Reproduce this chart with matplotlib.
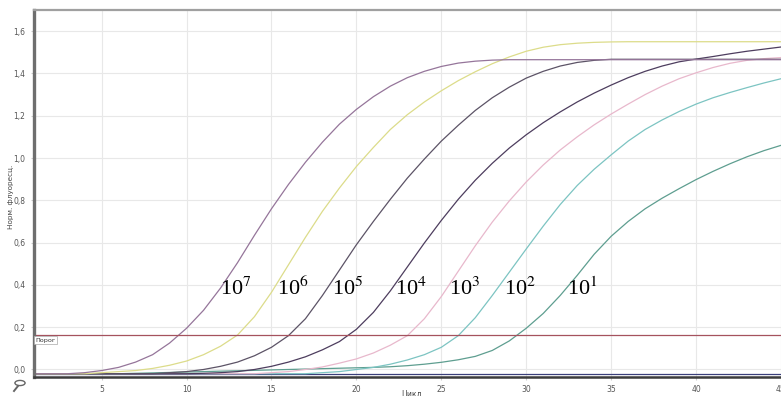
import matplotlib
matplotlib.use("Agg")
import matplotlib.pyplot as plt
from matplotlib.patches import Circle
from matplotlib.lines import Line2D

plt.rcParams["mathtext.fontset"] = "stix"

# normalised fluorescence per cycle for the 10-fold dilution series
cycles = list(range(1, 46))

fl_1e7 = [-0.020, -0.020, -0.020, -0.015, -0.005, 0.010, 0.035, 0.070, 0.125, 0.195,
          0.280, 0.385, 0.505, 0.635, 0.760, 0.875, 0.980, 1.075, 1.160, 1.230,
          1.290, 1.340, 1.380, 1.410, 1.433, 1.449, 1.458, 1.463] + [1.465] * 17

fl_1e6 = [-0.020, -0.020, -0.020, -0.020, -0.015, -0.010, -0.005, 0.005, 0.020, 0.040,
          0.070, 0.110, 0.163, 0.250, 0.365, 0.495, 0.625, 0.748, 0.858, 0.960,
          1.050, 1.135, 1.205, 1.265, 1.318, 1.366, 1.408, 1.446, 1.478, 1.505,
          1.524, 1.536, 1.543, 1.547, 1.549] + [1.550] * 10

fl_1e5 = [-0.020] * 8 + [-0.015, -0.010, 0.000, 0.015, 0.035, 0.065, 0.105, 0.160,
          0.240, 0.350, 0.470, 0.590, 0.700, 0.805, 0.905, 0.995, 1.080, 1.155,
          1.225, 1.285, 1.335, 1.378, 1.410, 1.435, 1.452, 1.462] + [1.467] * 11

fl_1e4 = [-0.020] * 10 + [-0.018, -0.015, -0.010, 0.000, 0.015, 0.035, 0.060, 0.093,
          0.132, 0.190, 0.270, 0.372, 0.485, 0.598, 0.705, 0.805, 0.895, 0.975,
          1.047, 1.110, 1.167, 1.218, 1.265, 1.307, 1.345, 1.380, 1.410, 1.435,
          1.455, 1.468, 1.480, 1.493, 1.505, 1.515, 1.525]

fl_1e3 = [-0.020] * 14 + [-0.015, -0.010, 0.000, 0.012, 0.030, 0.050, 0.078, 0.115,
          0.160, 0.240, 0.345, 0.465, 0.585, 0.697, 0.797, 0.887, 0.967, 1.038,
          1.100, 1.157, 1.208, 1.255, 1.300, 1.340, 1.375, 1.403, 1.428, 1.448,
          1.462, 1.470, 1.475]

fl_1e2 = [-0.020] * 17 + [-0.015, -0.010, 0.000, 0.010, 0.025, 0.045, 0.070, 0.105,
          0.160, 0.245, 0.350, 0.460, 0.570, 0.678, 0.780, 0.870, 0.947, 1.015,
          1.080, 1.135, 1.180, 1.220, 1.255, 1.285, 1.310, 1.333, 1.355, 1.375]

fl_1e1 = [-0.020, -0.020, -0.020, -0.020, -0.020, -0.020, -0.018, -0.016, -0.014, -0.012,
          -0.010, -0.008, -0.006, -0.004, -0.002, 0.000, 0.002, 0.004, 0.006, 0.008,
          0.010, 0.013, 0.018, 0.025, 0.034, 0.046, 0.062, 0.090, 0.135, 0.195,
          0.265, 0.350, 0.445, 0.545, 0.630, 0.700, 0.760, 0.810, 0.855, 0.898,
          0.937, 0.973, 1.006, 1.035, 1.060]

fl_ntc = [-0.022] * 45

threshold = 0.163

series = [fl_ntc, fl_1e1, fl_1e2, fl_1e3, fl_1e4, fl_1e5, fl_1e6, fl_1e7]
colors = ["#3a3f7a", "#5e9e90", "#7cc4c2", "#e8b8cc", "#4d3d5e", "#5c5366", "#dcdc8a", "#95759a"]

labels = ["10$^{7}$", "10$^{6}$", "10$^{5}$", "10$^{4}$", "10$^{3}$", "10$^{2}$", "10$^{1}$"]
label_x = [11.95, 15.33, 18.55, 22.27, 25.43, 28.67, 32.38]
label_y = 0.352

fig = plt.figure(figsize=(7.81, 3.96), dpi=100)
ax = fig.add_axes([33.7 / 781, 1 - 377 / 396, (781 - 33.7) / 781, (377 - 10) / 396])

for vals, col in zip(series, colors):
    ax.plot(cycles, vals, color=col, lw=0.9, solid_capstyle="round", solid_joinstyle="round")

ax.axhline(threshold, color="#a5525e", lw=0.9)
ax.text(1.12, 0.150, "Порог", fontsize=4.6, color="#333333", va="top", ha="left",
        bbox=dict(boxstyle="square,pad=0.2", fc="white", ec="#a8a8a8", lw=0.5))

for lab, x in zip(labels, label_x):
    ax.text(x, label_y, lab, fontsize=16, family="Liberation Serif", color="black",
            ha="left", va="baseline")

ax.set_xlim(1, 44.78)
ax.set_ylim(-0.0355, 1.70)
ax.set_xticks([5, 10, 15, 20, 25, 30, 35, 40, 45])
yt = [0.0, 0.2, 0.4, 0.6, 0.8, 1.0, 1.2, 1.4, 1.6]
ax.set_yticks(yt)
ax.set_yticklabels([f"{v:.1f}".replace(".", ",") for v in yt])
ax.grid(color="#e8e8e8", lw=0.8)
ax.set_axisbelow(True)
ax.tick_params(labelsize=5.5, labelcolor="#555555", length=2, color="#cccccc", pad=4)

ax.spines["right"].set_visible(False)
ax.spines["left"].set(lw=2.4, color="#6e6e6e")
ax.spines["top"].set(lw=1.6, color="#a0a0a0")
ax.spines["bottom"].set(lw=1.8, color="#3c3c3c")

# y label sits over the tick column, between the 1,0 and 0,6 labels
fig.text(11 / 781, 1 - 197 / 396, "Норм. флуоресц.", rotation=90, fontsize=5.2,
         color="#444444", ha="center", va="center")
fig.text(411 / 781, 1 - 390 / 396, "Цикл", fontsize=5.5, color="#444444",
         ha="center", va="top")

# small zoom icon in the lower left corner
fig.patches.append(Circle((20 / 781, 1 - 383 / 396), 0.0065, transform=fig.transFigure,
                          fill=False, ec="#666666", lw=1.0))
fig.lines.append(Line2D([14 / 781, 18 / 781], [1 - 391 / 396, 1 - 386 / 396],
                        transform=fig.transFigure, color="#666666", lw=1.4))

fig.savefig("out.png", dpi=100, facecolor="white")
